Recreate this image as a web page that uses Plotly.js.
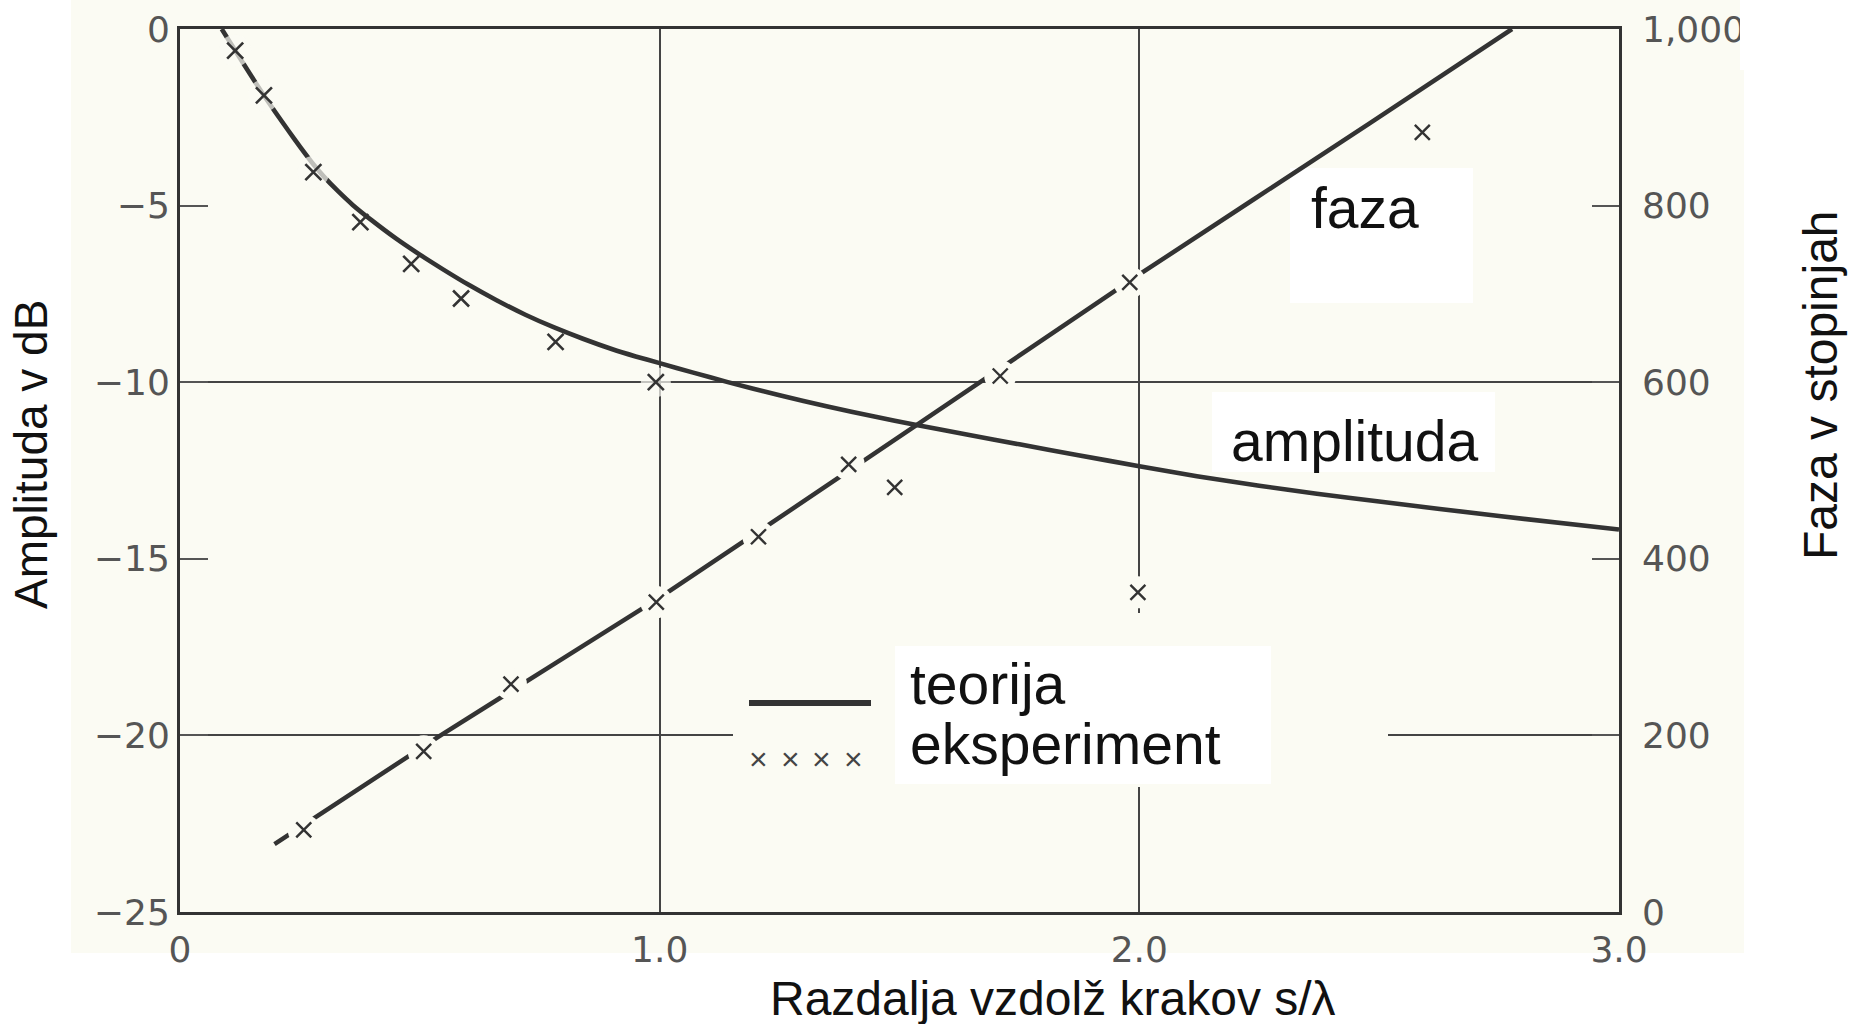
<!DOCTYPE html>
<html>
<head>
<meta charset="utf-8">
<script src="https://cdn.plot.ly/plotly-3.0.1.min.js"></script>
<style>
  html, body { margin: 0; padding: 0; background: #ffffff; }
  #chart { width: 1858px; height: 1024px; }
</style>
</head>
<body>
<div id="chart"></div>
<script>
// Theoretical amplitude along the arms: s/lambda and level in dB
const ampTheoryS  = [0.087, 0.115, 0.15, 0.175, 0.20, 0.225, 0.25, 0.278, 0.30, 0.33, 0.36, 0.40, 0.45, 0.50, 0.55, 0.60, 0.66, 0.72, 0.78, 0.84, 0.90, 0.95, 1.00, 1.07, 1.14, 1.25, 1.35, 1.45, 1.53, 1.64, 1.75, 1.87, 2.00, 2.12, 2.25, 2.37, 2.50, 2.75, 3.00];
const ampTheoryDb = [0, -0.61, -1.36, -1.88, -2.38, -2.86, -3.33, -3.83, -4.18, -4.6, -4.98, -5.42, -5.93, -6.39, -6.82, -7.23, -7.68, -8.09, -8.45, -8.77, -9.06, -9.27, -9.46, -9.73, -9.99, -10.37, -10.69, -10.98, -11.2, -11.48, -11.76, -12.06, -12.38, -12.66, -12.93, -13.16, -13.38, -13.79, -14.17];

// Measured amplitude
const ampExpS  = [0.115, 0.175, 0.278, 0.376, 0.482, 0.586, 0.783, 0.992];
const ampExpDb = [-0.61, -1.88, -4.05, -5.47, -6.65, -7.63, -8.86, -10.0];

// Theoretical phase in degrees
const phaseTheoryS   = [0.197, 0.54, 1.00, 1.54, 2.00, 2.48, 2.777];
const phaseTheoryDeg = [77, 199, 356, 553, 722, 893, 1000];

// Measured phase
const phaseExpS   = [0.258, 0.508, 0.69, 0.993, 1.206, 1.394, 1.49, 1.71, 1.98, 1.997, 2.59];
const phaseExpDeg = [93, 182, 258, 351, 425, 507, 481, 607, 713, 362, 883];

// Axis ticks
const xTickVals = [0, 1, 2, 3];
const xTickText = ['0', '1.0', '2.0', '3.0'];
const ampTickVals = [0, -5, -10, -15, -20, -25];
const ampGridVals = [-10, -20];
const phaseTickVals = [0, 200, 400, 600, 800, 1000];
const phaseTickText = ['0', '200', '400', '600', '800', '1,000'];

// Page geometry
const W = 1858, H = 1024;
const M = { l: 180, r: 239, t: 29, b: 112 };
const PW = W - M.l - M.r, PH = H - M.t - M.b;
const px = x => (x - M.l) / PW;          // pixel -> paper x
const py = y => (H - M.b - y) / PH;      // pixel -> paper y
const dx = x => (x - M.l) / PW * 3;      // pixel -> s/lambda
const dy = y => -(y - M.t) / PH * 25;    // pixel -> dB

const INK = '#333333';
const CREAM = '#fbfbf3';
const TEXT_FONT = 'Liberation Sans, Arial, sans-serif';
const TICK_FONT = { family: 'DejaVu Sans, sans-serif', size: 36, color: '#555555' };

// blank patch drawn under a marker so the curve and grid show a small gap
const haloAmp = [32, 32, 32, 0, 0, 0, 0, 30];

const traces = [
  { x: ampTheoryS, y: ampTheoryDb, xaxis: 'x', yaxis: 'y', mode: 'lines',
    line: { color: INK, width: 4.6, shape: 'spline', smoothing: 0.5 },
    hoverinfo: 'skip', showlegend: false },
  { x: ampExpS, y: ampExpDb, xaxis: 'x', yaxis: 'y', mode: 'markers',
    marker: { symbol: 'circle', size: haloAmp, color: CREAM, line: { width: 0 } },
    hoverinfo: 'skip', showlegend: false },
  { x: ampExpS, y: ampExpDb, xaxis: 'x', yaxis: 'y', mode: 'markers',
    marker: { symbol: 'x-thin', size: 16, line: { color: INK, width: 2.6 } },
    showlegend: false },
  { x: [], y: [], xaxis: 'x', yaxis: 'y3', mode: 'lines', hoverinfo: 'skip', showlegend: false },
  { x: phaseTheoryS, y: phaseTheoryDeg, xaxis: 'x', yaxis: 'y2', mode: 'lines',
    line: { color: INK, width: 4.5, shape: 'spline', smoothing: 0.4 },
    hoverinfo: 'skip', showlegend: false },
  { x: phaseExpS, y: phaseExpDeg, xaxis: 'x', yaxis: 'y2', mode: 'markers',
    marker: { symbol: 'circle', size: 32, color: CREAM, line: { width: 0 } },
    hoverinfo: 'skip', showlegend: false },
  { x: phaseExpS, y: phaseExpDeg, xaxis: 'x', yaxis: 'y2', mode: 'markers',
    marker: { symbol: 'x-thin', size: 15, line: { color: INK, width: 2.4 } },
    showlegend: false }
];

// cream sheet, label patches and the legend glyphs
const shapes = [
  { type: 'rect', xref: 'paper', yref: 'paper', layer: 'below',
    x0: px(71), x1: px(1744), y0: py(0), y1: py(953),
    fillcolor: CREAM, line: { width: 0 } },
  // legend patch covering the grid
  { type: 'rect', xref: 'x', yref: 'y', layer: 'between',
    x0: dx(733), x1: dx(1388), y0: dy(613), y1: dy(787),
    fillcolor: CREAM, line: { width: 0 } },
  { type: 'rect', xref: 'x', yref: 'y', layer: 'between',
    x0: dx(895), x1: dx(1271), y0: dy(646), y1: dy(784),
    fillcolor: '#ffffff', line: { width: 0 } },
  { type: 'rect', xref: 'x', yref: 'y', layer: 'between',
    x0: dx(1290), x1: dx(1473), y0: dy(168), y1: dy(303),
    fillcolor: '#ffffff', line: { width: 0 } },
  { type: 'rect', xref: 'x', yref: 'y', layer: 'between',
    x0: dx(1212), x1: dx(1495), y0: dy(392), y1: dy(472),
    fillcolor: '#ffffff', line: { width: 0 } },
  // right margin is plain white and trims the last tick label
  { type: 'rect', xref: 'paper', yref: 'paper', layer: 'above',
    x0: px(1740), x1: px(1858), y0: py(0), y1: py(70),
    fillcolor: '#ffffff', line: { width: 0 } },
  // legend line sample
  { type: 'line', xref: 'paper', yref: 'paper', layer: 'above',
    x0: px(749), x1: px(871), y0: py(703), y1: py(703),
    line: { color: INK, width: 6 } }
];

const ann = (text, x, y, size, extra) => Object.assign({
  text: text, xref: 'paper', yref: 'paper', x: px(x), y: py(y),
  xanchor: 'center', yanchor: 'middle', showarrow: false,
  font: { family: TEXT_FONT, size: size, color: '#111111' }
}, extra || {});

const annotations = [
  ann('Amplituda v dB', 31, 455, 46, { textangle: -90 }),
  ann('Faza v stopinjah', 1820, 385, 48, { textangle: -90 }),
  ann('Razdalja vzdolž krakov s/λ', 1053, 998, 48),
  ann('faza', 1309, 208, 57, { xanchor: 'left' }),
  ann('amplituda', 1229, 441, 57, { xanchor: 'left' }),
  ann('teorija', 908, 684, 57, { xanchor: 'left' }),
  ann('eksperiment', 908, 744, 57, { xanchor: 'left' })
];
[758, 790, 821, 853].forEach(function (x) {
  annotations.push(ann('×', x, 759, 32, { font: { family: TEXT_FONT, size: 32, color: '#444444' } }));
});

const layout = {
  width: W, height: H,
  margin: M,
  paper_bgcolor: '#ffffff',
  plot_bgcolor: CREAM,
  showlegend: false,
  xaxis: {
    range: [0, 3], tickvals: xTickVals, ticktext: xTickText,
    ticks: '', showgrid: true, gridcolor: '#444444', gridwidth: 2,
    zeroline: false, showline: true, mirror: true, linecolor: INK, linewidth: 3,
    tickfont: TICK_FONT, ticklabelstandoff: 4
  },
  yaxis: {
    range: [-25, 0], tickvals: ampTickVals,
    ticks: 'inside', ticklen: 28, tickwidth: 2, tickcolor: '#555555',
    showgrid: false, zeroline: false,
    showline: true, mirror: true, linecolor: INK, linewidth: 3,
    tickfont: TICK_FONT, ticklabelstandoff: 0
  },
  yaxis2: {
    range: [0, 1000], overlaying: 'y', side: 'right', anchor: 'x',
    tickvals: phaseTickVals, ticktext: phaseTickText,
    ticks: 'inside', ticklen: 27, tickwidth: 2, tickcolor: '#555555',
    showgrid: false, zeroline: false, showline: false,
    tickfont: TICK_FONT, ticklabelstandoff: 22
  },
  yaxis3: {
    range: [-25, 0], overlaying: 'y', side: 'left', anchor: 'x',
    tickvals: ampGridVals, showticklabels: false, ticks: '',
    showgrid: true, gridcolor: '#444444', gridwidth: 2,
    zeroline: false, showline: false
  },
  shapes: shapes,
  annotations: annotations
};

Plotly.newPlot('chart', traces, layout, { displayModeBar: false, staticPlot: true });
</script>
</body>
</html>
